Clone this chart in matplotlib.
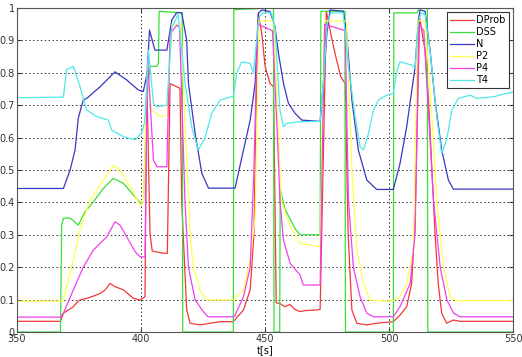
import matplotlib
matplotlib.use("Agg")
import matplotlib.pyplot as plt

# ---- data ----
t_dprob = [350, 367.5, 368.7, 372.7, 374.0, 375.4, 378.1, 380.5, 383.5, 385.5, 387.5, 389.5, 392.9, 396.9, 399.6, 401.6,
           402.3, 403.6, 404.5, 409, 410.6, 411.7, 415.7, 416.4, 418.4, 419.8, 423.8, 427.8, 431.9, 437.2,
           441.3, 444, 445.5, 446.6, 447.3, 448.7, 450, 452, 453.4, 454.5, 456, 458, 460, 462, 464.1, 466, 470.8, 472.2,
           474.7, 476.5, 478.5, 480.5, 482.3, 483.5, 485, 487, 491, 495, 501.7, 504.4, 507.1, 509.1, 510.5,
           512.3, 514.5, 515.9, 517.2, 518.5, 519.8, 521.2, 523.2, 525.9, 528.6, 550]
v_dprob = [0.033, 0.033, 0.058, 0.078, 0.09, 0.099, 0.104, 0.11, 0.119, 0.13, 0.15, 0.14, 0.13, 0.104, 0.099, 0.109,
           0.788, 0.305, 0.25, 0.243, 0.243, 0.767, 0.752, 0.40, 0.068, 0.027, 0.022, 0.027, 0.032, 0.032,
           0.068, 0.13, 0.30, 0.767, 0.984, 0.92, 0.82, 0.767, 0.757, 0.09, 0.088, 0.078, 0.085, 0.07, 0.063, 0.066, 0.068, 0.07,
           0.99, 0.92, 0.85, 0.788, 0.767, 0.30, 0.068, 0.027, 0.022, 0.027, 0.032, 0.052, 0.078, 0.15, 0.356,
           0.97, 0.87, 0.716, 0.51, 0.305, 0.15, 0.058, 0.027, 0.037, 0.033, 0.033]

t_dss = [350, 367.5, 368.0, 368.7, 371.4, 374.7, 377.4, 380.8, 384.8, 388.8, 392.9, 396.9, 399.9, 401,
         402.3, 403.6, 406.3, 407.0, 407.3, 416.6, 416.8, 437.2, 437.4, 453.4, 453.6, 455.9, 456.1, 458,
         460, 462, 464.1, 472.2, 472.5, 482.2, 482.4, 501.7, 501.9, 511.2, 512.3, 515.4, 515.6, 550]
v_dss = [0, 0, 0.33, 0.351, 0.352, 0.33, 0.371, 0.402, 0.443, 0.474, 0.459, 0.423, 0.397, 0.40,
         0.716, 0.82, 0.82, 0.83, 0.99, 0.985, 0, 0, 0.995, 1.0, 0, 0, 0.44, 0.38,
         0.35, 0.32, 0.30, 0.30, 0.99, 0.99, 0, 0, 0.985, 0.985, 1.0, 1.0, 0, 0]

t_n = [350, 368.7, 371.4, 373.4, 374.7, 376.7, 378.1, 383.5, 389.5, 394.2, 398.9, 400.9, 402.5, 403.4, 405.6,
       410.4, 412.4, 414.4, 416.4, 418.4, 419.1, 421.8, 424.5, 427.2, 437.9, 441.3, 444, 446, 447.3,
       448.7, 452, 454, 455.4, 457.4, 459.4, 462.1, 464.8, 472.2, 473.5, 474.9, 476.2, 481.6, 482.9,
       485, 487.6, 491, 495, 501.7, 504.4, 507.1, 510.5, 511.8, 512.5, 514.5, 516.5, 518.5, 521.2,
       523.9, 525.9, 550]
v_n = [0.443, 0.443, 0.50, 0.562, 0.66, 0.716, 0.721, 0.757, 0.803, 0.778, 0.747, 0.742, 0.80, 0.932, 0.870,
       0.870, 0.963, 0.986, 0.985, 0.90, 0.768, 0.613, 0.49, 0.444, 0.444, 0.562, 0.654, 0.768, 0.984,
       0.994, 0.989, 0.942, 0.86, 0.768, 0.706, 0.675, 0.654, 0.65, 0.768, 0.92, 0.994, 0.99, 0.92,
       0.716, 0.562, 0.469, 0.44, 0.44, 0.52, 0.634, 0.819, 0.963, 0.994, 0.99, 0.87, 0.716, 0.562,
       0.469, 0.441, 0.441]

t_p2 = [350, 367.5, 368.7, 372.7, 375.4, 379.4, 384.8, 388.8, 391.5, 395.6, 399.6, 401, 402.5, 404.3, 407.7,
        410.4, 412.5, 416, 418, 419.8, 421.1, 423.8, 426.5, 437.2, 441.3, 444, 446, 447.5, 453.5,
        455.5, 456.5, 460.1, 464.1, 472.2, 474, 482.8, 485, 487, 489.7, 492.3, 499.1, 501.7, 504.4,
        507.1, 509.8, 511.5, 514.5, 517, 519.2, 521.9, 524.6, 527, 550]
v_p2 = [0.095, 0.095, 0.099, 0.222, 0.315, 0.407, 0.469, 0.515, 0.50, 0.449, 0.392, 0.40, 0.80, 0.685, 0.665,
        0.67, 0.95, 0.95, 0.6, 0.305, 0.20, 0.13, 0.099, 0.099, 0.13, 0.222, 0.356, 0.96, 0.96,
        0.6, 0.407, 0.325, 0.274, 0.263, 0.96, 0.96, 0.5, 0.253, 0.15, 0.099, 0.095, 0.097, 0.109,
        0.15, 0.253, 0.96, 0.96, 0.7, 0.407, 0.20, 0.109, 0.097, 0.097]

t_p4 = [350, 367.5, 368.7, 372.7, 376.7, 380.8, 386.2, 389.5, 391.5, 394.2, 397.6, 399.6, 401.6, 402.6, 405,
        406.5, 410.4, 411.7, 414.4, 415.5, 417.7, 419.1, 421.8, 425.1, 427, 437.6, 441.3, 444, 445.5,
        447, 453, 455, 456, 457.4, 460.1, 464.1, 465.4, 472.2, 474, 482.3, 483.6, 485.6, 488.3, 491,
        493.7, 501.7, 504.4, 508.5, 510.5, 512, 514, 517.9, 520.6, 523.3, 526, 528.6, 550]
v_p4 = [0.046, 0.046, 0.058, 0.13, 0.20, 0.253, 0.294, 0.34, 0.33, 0.294, 0.248, 0.232, 0.232, 0.85, 0.53,
        0.51, 0.51, 0.92, 0.947, 0.94, 0.407, 0.20, 0.099, 0.063, 0.047, 0.047, 0.109, 0.20, 0.5,
        0.95, 0.93, 0.6, 0.407, 0.284, 0.212, 0.176, 0.145, 0.145, 0.95, 0.93, 0.407, 0.20, 0.109, 0.058,
        0.047, 0.047, 0.078, 0.15, 0.305, 0.95, 0.93, 0.407, 0.20, 0.099, 0.058, 0.047, 0.047]

t_t4 = [350, 368.7, 370, 372.7, 375.4, 378.1, 382.1, 386.8, 388.2, 392.9, 397.6, 400.3, 401.5, 403, 405,
        406.3, 410.4, 412.4, 415, 417.7, 420.4, 423.1, 425.8, 428.5, 431.9, 437.2, 438.6, 440.6, 444,
        445.3, 447.5, 449, 452.5, 454, 456, 457.4, 458.7, 464.1, 472.2, 473.5, 475, 476.5, 481.5, 483.6,
        486.3, 488.3, 489.7, 491.7, 493.7, 495.7, 499.1, 501.7, 503.1, 504.4, 509.1, 510.5, 511.8, 513,
        514.5, 516.5, 519.2, 521.2, 523.2, 525.3, 527.9, 532.7, 535.4, 542.1, 547.5, 550]
v_t4 = [0.723, 0.725, 0.81, 0.82, 0.757, 0.685, 0.665, 0.654, 0.623, 0.603, 0.593, 0.614, 0.65, 0.87, 0.706,
        0.695, 0.70, 0.94, 0.98, 0.77, 0.634, 0.562, 0.60, 0.675, 0.716, 0.728, 0.80, 0.834, 0.829,
        0.80, 0.97, 0.985, 0.985, 0.94, 0.685, 0.634, 0.644, 0.649, 0.65, 0.77, 0.95, 0.985, 0.985, 0.82,
        0.665, 0.572, 0.562, 0.613, 0.685, 0.716, 0.731, 0.737, 0.803, 0.834, 0.824, 0.814, 0.96, 0.985,
        0.98, 0.87, 0.665, 0.551, 0.593, 0.685, 0.721, 0.731, 0.721, 0.726, 0.737, 0.74]

labels = ["DProb", "DSS", "N", "P2", "P4", "T4"]
x_ticks = [350, 400, 450, 500, 550]
y_ticks = [0, 0.1, 0.2, 0.3, 0.4, 0.5, 0.6, 0.7, 0.8, 0.9, 1]
y_ticklabels = ["0", "0.1", "0.2", "0.3", "0.4", "0.5", "0.6", "0.7", "0.8", "0.9", "1"]

colors = ["#f03838", "#38e038", "#3838c0", "#ffff50", "#f040f0", "#50e8e8"]
series = [(t_dprob, v_dprob), (t_dss, v_dss), (t_n, v_n), (t_p2, v_p2), (t_p4, v_p4), (t_t4, v_t4)]

fig = plt.figure(figsize=(5.22, 3.57), dpi=100)
fig.patch.set_facecolor("white")
ax = fig.add_axes([0.0326, 0.070, 0.9504, 0.9076])

for (tt, vv), c, lab in zip(series, colors, labels):
    ax.plot(tt, vv, color=c, lw=0.9, label=lab)

ax.set_xlim(350, 550)
ax.set_ylim(0, 1)
ax.set_xticks(x_ticks)
ax.set_yticks(y_ticks)
ax.set_yticklabels(y_ticklabels)
ax.tick_params(direction="in", length=3, labelsize=7, pad=1.5, top=True, right=True, colors="#333333")
ax.grid(True, linestyle=(0, (1.5, 2.5)), color="#333333", linewidth=0.7)
for s in ax.spines.values():
    s.set_color("#555555")
    s.set_linewidth(0.8)
ax.set_xlabel("t[s]", fontsize=7, labelpad=1)

leg = ax.legend(loc="upper right", fontsize=7, frameon=True, fancybox=False, handlelength=2.4,
                handletextpad=0.3, labelspacing=0.2, borderpad=0.35, borderaxespad=0.4)
leg.get_frame().set_edgecolor("#333333")
leg.get_frame().set_linewidth(0.8)
leg.get_frame().set_alpha(1)

fig.savefig("out.png", dpi=100, facecolor="white")
